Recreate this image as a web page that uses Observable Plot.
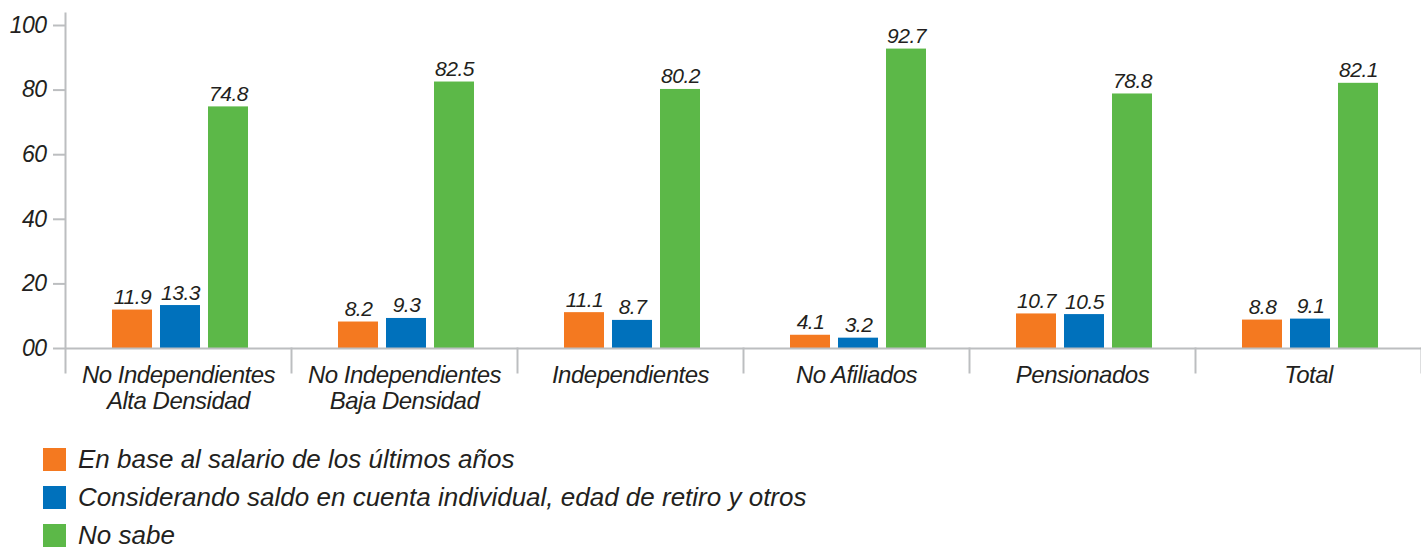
<!DOCTYPE html>
<html>
<head>
<meta charset="utf-8">
<script src="https://cdn.jsdelivr.net/npm/d3@7"></script>
<script src="https://cdn.jsdelivr.net/npm/@observablehq/plot@0.6"></script>
<style>
  body { margin: 0; background: #fff; font-family: "Liberation Sans", Arial, sans-serif; }
  #legend { padding-top: 15px; padding-left: 43px; }
  .row { height: 38px; display: flex; align-items: center; font-style: italic; font-size: 26px; line-height: 1; color: #231f20; }
  .sw { width: 23px; height: 23px; margin-right: 12px; flex: none; }
</style>
</head>
<body>
<div id="chart"></div>
<div id="legend"></div>
<script>
const categories = [
  "No Independientes\nAlta Densidad",
  "No Independientes\nBaja Densidad",
  "Independientes",
  "No Afiliados",
  "Pensionados",
  "Total"
];
const series = [
  "En base al salario de los últimos años",
  "Considerando saldo en cuenta individual, edad de retiro y otros",
  "No sabe"
];
const salario = [11.9, 8.2, 11.1, 4.1, 10.7, 8.8];
const saldo = [13.3, 9.3, 8.7, 3.2, 10.5, 9.1];
const noSabe = [74.8, 82.5, 80.2, 92.7, 78.8, 82.1];
const colors = ["#f47920", "#0071bc", "#5cb848"];
const yTicks = [0, 20, 40, 60, 80, 100];

const seriesValues = [salario, saldo, noSabe];
const rows = [];
categories.forEach((c, i) => series.forEach((s, j) => rows.push({cat: c, series: s, value: seriesValues[j][i]})));

const W = 1421, H = 425, mTop = 25, mBottom = 77, mLeft = 65;
const inner = H - mTop - mBottom;
const axisGray = "#bcbec0", ink = "#231f20";

const chart = Plot.plot({
  width: W, height: H,
  marginTop: mTop, marginBottom: mBottom, marginLeft: mLeft, marginRight: 0,
  style: {fontFamily: "'Liberation Sans', Arial, sans-serif", background: "#fff"},
  fx: {domain: categories, paddingInner: 0, paddingOuter: 0, axis: null, label: null},
  x: {domain: series, paddingInner: 0.1667, paddingOuter: 0.9375, align: 0.522, axis: null, label: null},
  y: {domain: [0, 100], label: null},
  color: {domain: series, range: colors},
  marks: [
    Plot.barY(rows, {fx: "cat", x: "series", y: "value", fill: "series"}),
    Plot.ruleY([0], {stroke: axisGray, strokeWidth: 2}),
    Plot.frame({anchor: "right", insetTop: inner, insetBottom: -24, stroke: axisGray, strokeWidth: 2}),
    Plot.frame({anchor: "left", fx: categories[0], insetTop: -12, insetBottom: -24, stroke: axisGray, strokeWidth: 2}),
    Plot.axisY({ticks: yTicks, tickFormat: d => d === 0 ? "00" : String(d), tickSize: 12, tickPadding: 7,
      stroke: axisGray, strokeWidth: 2, fill: ink, color: ink, fontSize: 23, fontStyle: "italic", label: null}),
    Plot.text(rows, {fx: "cat", x: "series", y: "value", text: d => d.value.toFixed(1),
      lineAnchor: "bottom", dy: -6, fontSize: 21, fontStyle: "italic", fill: ink}),
    Plot.text(categories, {fx: d => d, text: d => d, frameAnchor: "bottom", lineAnchor: "top", dy: 16,
      lineHeight: 1.08, fontSize: 24, fontStyle: "italic", fill: ink})
  ]
});
chart.querySelectorAll("text").forEach(t => t.style.letterSpacing = "-0.5px");
document.getElementById("chart").appendChild(chart);

const legend = document.getElementById("legend");
series.forEach((s, j) => {
  const row = document.createElement("div");
  row.className = "row";
  const sw = document.createElement("span");
  sw.className = "sw";
  sw.style.background = colors[j];
  const label = document.createElement("span");
  label.textContent = s;
  row.appendChild(sw);
  row.appendChild(label);
  legend.appendChild(row);
});
</script>
</body>
</html>
